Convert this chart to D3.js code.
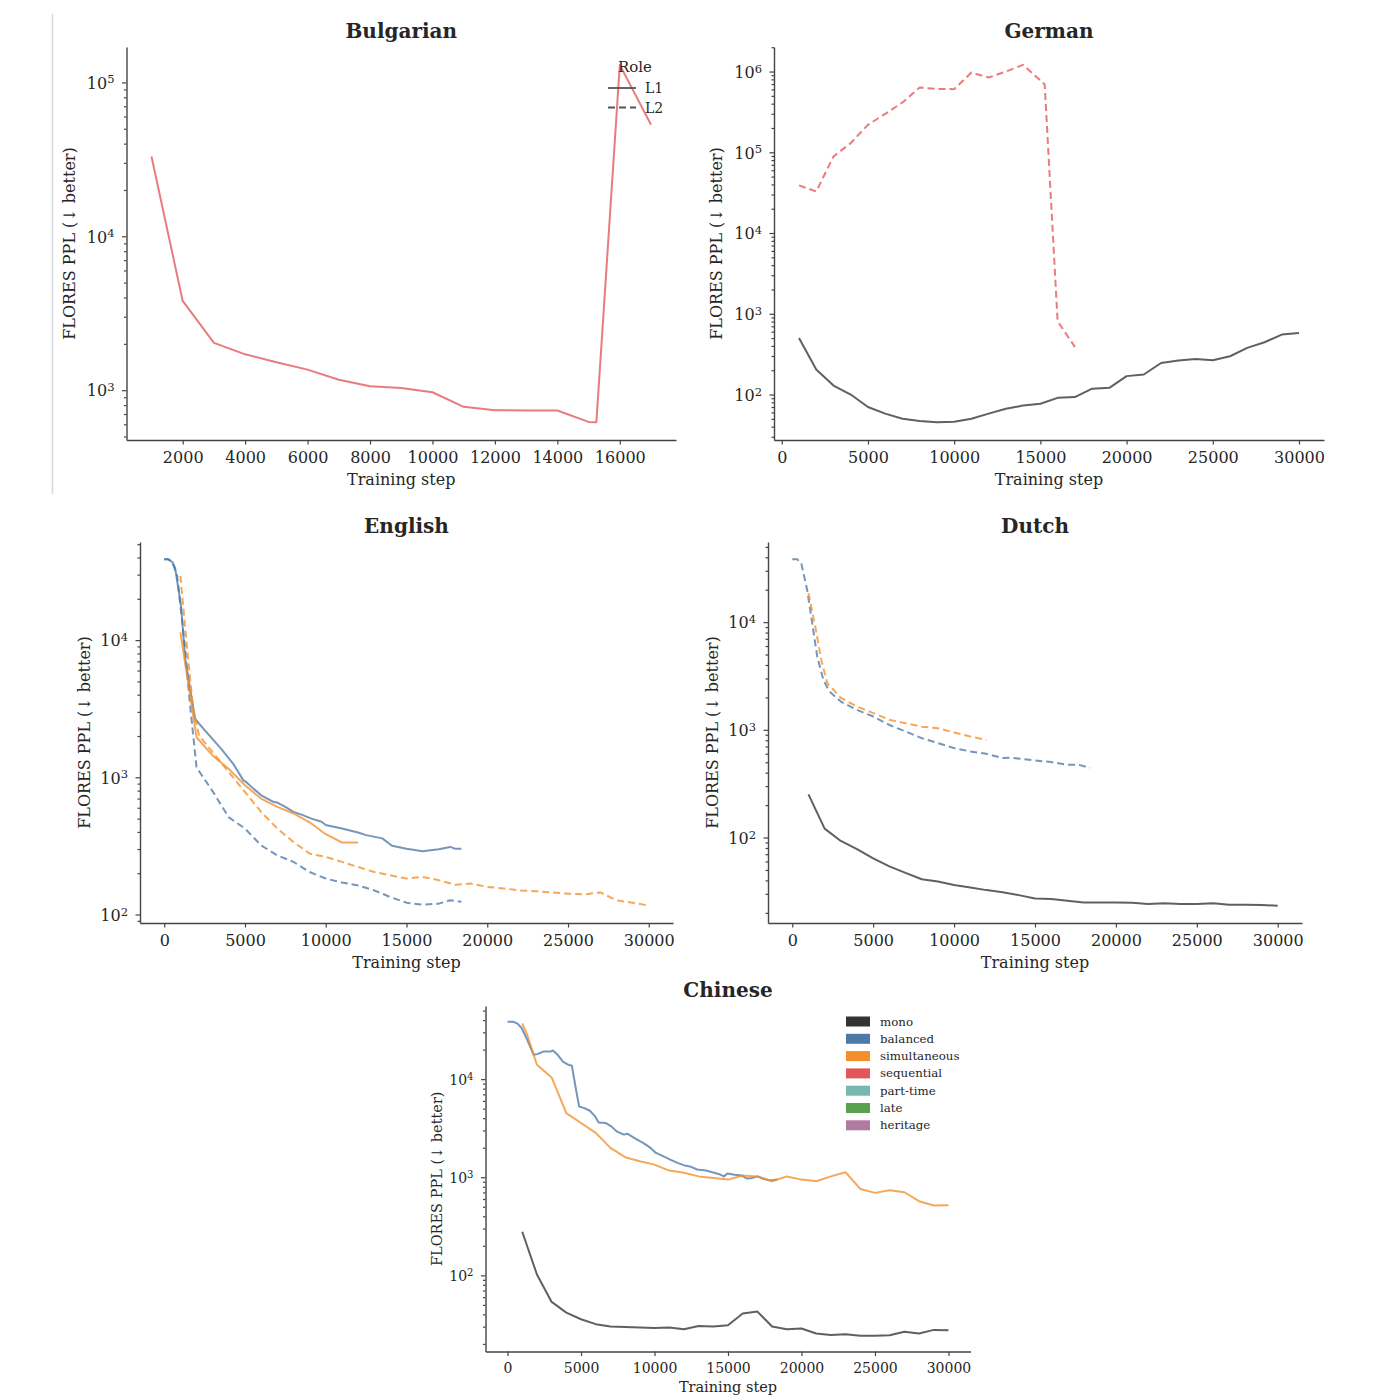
<!DOCTYPE html>
<html>
<head>
<meta charset="utf-8">
<script src="https://cdn.jsdelivr.net/npm/d3@7"></script>
<style>
    body { margin: 0; background: #fff; }
    svg text { font-family: "DejaVu Serif", serif; fill: #262626; }
</style>
</head>
<body>
<svg id="chart" width="1400" height="1400"></svg>
<script>
// ---------- data ----------
const groups = ['mono', 'balanced', 'simultaneous', 'sequential', 'part-time', 'late', 'heritage']
const groupColors = ['#333333', '#4e79a7', '#f28e2b', '#e15759', '#76b7b2', '#59a14f', '#b07aa1']
const roles = ['L1', 'L2']

const steps1kTo30k = [1000, 2000, 3000, 4000, 5000, 6000, 7000, 8000, 9000, 10000,
    11000, 12000, 13000, 14000, 15000, 16000, 17000, 18000, 19000, 20000,
    21000, 22000, 23000, 24000, 25000, 26000, 27000, 28000, 29000, 30000]

// Bulgarian
const bgSeqL1Step = [1000, 2000, 3000, 4000, 5000, 6000, 7000, 8000, 9000, 10000, 11000, 12000, 13000, 14000, 15000, 15250, 16000, 17000]
const bgSeqL1Ppl = [33000, 3800, 2030, 1710, 1520, 1360, 1170, 1060, 1035, 970, 780, 742, 738, 738, 622, 620, 130000, 53000]

// German
const deMonoL1Ppl = [502, 204, 129, 100, 70, 58, 50, 47, 45.5, 46, 50, 58, 66.5, 73, 77, 91, 93, 118, 121, 169,
    177, 246, 263, 276, 266, 298, 378, 444, 552, 579]
const deSeqL2Step = [1000, 2000, 3000, 4000, 5000, 6000, 7000, 8000, 9000, 10000, 11000, 12000, 13000, 14000, 15000, 15250, 16000, 17000]
const deSeqL2Ppl = [38900, 32700, 88700, 130000, 219000, 299000, 414000, 634000, 610000, 605000, 972000, 843000, 1000000, 1210000, 774000, 690000, 808, 389]

// English
const enBalL1Step = [0, 250, 500, 670, 900, 1040, 1300, 1540, 1910, 2530, 3530, 4270, 4900, 5070, 5520, 6010, 6760, 7000, 7500, 8000,
    8500, 9120, 9740, 10000, 11000, 12000, 12500, 13500, 14100, 15000, 16000, 17000, 17700, 18000, 18400]
const enBalL1Ppl = [38800, 38800, 37100, 33700, 22800, 17800, 7280, 4920, 2660, 2190, 1610, 1255, 950, 925, 827, 740, 662, 655, 609, 560,
    535, 500, 474, 449, 424, 396, 379, 359, 317, 302, 289, 299, 311, 302, 302]
const enBalL2Step = [0, 250, 500, 800, 1300, 1540, 2000, 3000, 4000, 5000, 6000, 7000, 8000, 9000, 10000, 11000, 12000, 13000, 14000, 15000,
    16000, 17000, 17700, 18400]
const enBalL2Ppl = [38800, 38800, 37100, 29400, 8600, 3940, 1180, 790, 510, 423, 319, 270, 242, 204, 183, 171, 163, 150, 134, 122,
    118, 120, 127, 124]
const enSimL1Step = [1000, 2000, 3000, 4000, 5000, 6000, 7000, 8000, 9000, 10000, 11000, 12000]
const enSimL1Ppl = [11400, 1960, 1440, 1150, 875, 700, 609, 545, 470, 385, 335, 335]
const enSimL2Step = [1000, 1420, 1790, 2160, 3000, 4000, 5000, 6000, 7000, 8000, 9000, 10000, 11000, 12000, 13000, 14000,
    15000, 16000, 17000, 18000, 19000, 20000, 21000, 22000, 23000, 24000, 25000, 26000, 27000, 28000, 29000, 30000]
const enSimL2Ppl = [29400, 8600, 3150, 2010, 1520, 1090, 782, 559, 423, 338, 278, 263, 242, 222, 204, 193,
    183, 188, 178, 165, 168, 159, 155, 150, 148, 145, 142, 140, 145, 127, 122, 116]

// Dutch
const nlMonoL1Ppl = [252, 121, 93, 78, 64, 54, 47, 41, 39, 36.2, 34.4, 32.5, 31, 29.2, 27.2, 26.9, 25.9, 25, 25, 25,
    24.8, 24.2, 24.5, 24.2, 24.2, 24.5, 23.8, 23.8, 23.7, 23.3]
const nlBalL2Step = [0, 300, 550, 920, 1170, 1540, 1920, 2290, 3000, 4000, 5000, 6000, 7000, 8000, 9000, 10000, 11000, 12000, 13000,
    13500, 15000, 16000, 17000, 17700, 18400]
const nlBalL2Ppl = [38300, 38300, 35600, 19900, 11300, 4800, 2920, 2280, 1830, 1530, 1330, 1110, 965, 837, 753, 677, 630, 600, 547,
    550, 520, 502, 474, 474, 444]
const nlSimL2Step = [1000, 1420, 1790, 2160, 3000, 4000, 5000, 6000, 7000, 8000, 9000, 10000, 11000, 12000]
const nlSimL2Ppl = [18600, 9120, 4480, 2720, 1980, 1645, 1430, 1240, 1150, 1070, 1035, 945, 867, 807]

// Chinese
const zhMonoL1Ppl = [278, 102, 53.6, 41.7, 35.7, 31.8, 30.1, 29.8, 29.4, 29, 29.4, 28.2, 30.5, 30.1, 31, 40.8, 42.7, 30.1, 28.2, 28.7,
    25.5, 24.7, 25.1, 24.2, 24.2, 24.5, 26.6, 25.5, 27.8, 27.6]
const zhBalL1Step = [0, 365, 660, 970, 1340, 1780, 2070, 2430, 2920, 3090, 3410, 3770, 4140, 4380, 4620, 4870, 5230, 5600, 5960, 6200,
    6690, 7060, 7420, 7910, 8150, 8640, 9250, 9730, 10100, 10580, 11070, 11560, 12040, 12410, 12900, 13500, 13990, 14360, 14720, 14960,
    15450, 15940, 16300, 16670, 17030, 17400, 17880, 18370]
const zhBalL1Ppl = [38500, 38500, 37000, 33000, 25100, 17700, 18100, 19100, 19100, 19600, 17700, 15100, 14000, 13700, 8420, 5270, 5070, 4760, 4170, 3620,
    3570, 3300, 2940, 2720, 2780, 2510, 2230, 1990, 1770, 1640, 1510, 1400, 1320, 1290, 1200, 1170, 1120, 1080, 1020, 1090,
    1060, 1040, 970, 985, 1020, 962, 925, 946]
const zhSimL1Step = [1000, 1340, 2000, 3000, 4000, 5000, 6000, 7000, 8000, 9000, 10000, 11000, 12000, 13000, 14000, 15000,
    16000, 17000, 18000, 19000, 20000, 21000, 22000, 23000, 24000, 25000, 26000, 27000, 28000, 29000, 30000]
const zhSimL1Ppl = [37000, 28200, 14000, 10400, 4510, 3570, 2830, 1990, 1600, 1455, 1345, 1170, 1110, 1020, 985, 946,
    1040, 1020, 910, 1020, 946, 910, 1020, 1125, 760, 693, 738, 703, 570, 515, 519]

// ---------- panels built from the arrays ----------
const panels = [
    {
        title: 'Bulgarian', xTicks: 8, legend: 'role',
        series: [{ group: 'sequential', role: 'L1', step: bgSeqL1Step, ppl: bgSeqL1Ppl }],
    },
    {
        title: 'German', xTicks: 7,
        series: [
            { group: 'mono', role: 'L1', step: steps1kTo30k, ppl: deMonoL1Ppl },
            { group: 'sequential', role: 'L2', step: deSeqL2Step, ppl: deSeqL2Ppl },
        ],
    },
    {
        title: 'English', xTicks: 7,
        series: [
            { group: 'balanced', role: 'L1', step: enBalL1Step, ppl: enBalL1Ppl },
            { group: 'balanced', role: 'L2', step: enBalL2Step, ppl: enBalL2Ppl },
            { group: 'simultaneous', role: 'L1', step: enSimL1Step, ppl: enSimL1Ppl },
            { group: 'simultaneous', role: 'L2', step: enSimL2Step, ppl: enSimL2Ppl },
        ],
    },
    {
        title: 'Dutch', xTicks: 7,
        series: [
            { group: 'mono', role: 'L1', step: steps1kTo30k, ppl: nlMonoL1Ppl },
            { group: 'balanced', role: 'L2', step: nlBalL2Step, ppl: nlBalL2Ppl },
            { group: 'simultaneous', role: 'L2', step: nlSimL2Step, ppl: nlSimL2Ppl },
        ],
    },
    {
        title: 'Chinese', xTicks: 7, legend: 'group',
        series: [
            { group: 'mono', role: 'L1', step: steps1kTo30k, ppl: zhMonoL1Ppl },
            { group: 'balanced', role: 'L1', step: zhBalL1Step, ppl: zhBalL1Ppl },
            { group: 'simultaneous', role: 'L1', step: zhSimL1Step, ppl: zhSimL1Ppl },
        ],
    },
]

// plot boxes (left, top, right, bottom) + font sizes
const layout = [
    { l: 126.5, t: 47, r: 676, b: 440, fs: 16, ls: 16, xl: 45, yl: 52 },
    { l: 774, t: 47, r: 1324, b: 440, fs: 16, ls: 16, xl: 45, yl: 52 },
    { l: 140, t: 542, r: 673, b: 923, fs: 16, ls: 16, xl: 45, yl: 50 },
    { l: 768, t: 542, r: 1302, b: 923, fs: 16, ls: 16, xl: 45, yl: 50 },
    { l: 485.5, t: 1006, r: 970.5, b: 1351.5, fs: 14, ls: 14.5, xl: 40, yl: 44 },
]

const color = d3.scaleOrdinal().domain(groups).range(groupColors)
const dash = d3.scaleOrdinal().domain(roles).range(['none', '7,4'])

const svg = d3.select('#chart')

// faint screenshot border on the left
svg.append('line')
    .attr('x1', 52.5).attr('x2', 52.5).attr('y1', 14).attr('y2', 494)
    .attr('stroke', '#d3d8e0').attr('stroke-width', 1.5)

function padExtent(lo, hi) {
    const m = (hi - lo) * 0.05
    return [lo - m, hi + m]
}

panels.forEach((panel, pi) => {
    const box = layout[pi]
    const allSteps = panel.series.flatMap(s => s.step)
    const allPpl = panel.series.flatMap(s => s.ppl)

    const xDom = padExtent(d3.min(allSteps), d3.max(allSteps))
    const yLog = padExtent(Math.log10(d3.min(allPpl)), Math.log10(d3.max(allPpl)))

    const x = d3.scaleLinear().domain(xDom).range([box.l, box.r])
    const y = d3.scaleLog().domain([10 ** yLog[0], 10 ** yLog[1]]).range([box.b, box.t])

    const g = svg.append('g')

    // y minor / major ticks (log decades)
    const minors = []
    const majors = []
    for (let k = Math.floor(yLog[0]); k <= Math.ceil(yLog[1]); k++) {
        for (let m = 1; m <= 9; m++) {
            const v = m * 10 ** k
            if (Math.log10(v) < yLog[0] || Math.log10(v) > yLog[1]) continue
            if (m === 1) majors.push(v)
            else minors.push(v)
        }
    }

    g.append('g')
        .attr('transform', `translate(${box.l},0)`)
        .call(d3.axisLeft(y).tickValues(minors).tickSize(2.5).tickFormat('').tickSizeOuter(0))
        .call(a => a.select('.domain').remove())
        .call(a => a.selectAll('line').attr('stroke', '#444').attr('stroke-width', 1))

    const yAxis = g.append('g')
        .attr('transform', `translate(${box.l},0)`)
        .call(d3.axisLeft(y).tickValues(majors).tickSize(4.5).tickPadding(7.5).tickSizeOuter(0).tickFormat(''))
    yAxis.selectAll('.tick text')
        .attr('font-size', box.fs)
        .attr('dy', '0.36em')
        .each(function (d) {
            const t = d3.select(this)
            t.append('tspan').text('10')
            t.append('tspan')
                .attr('dy', '-0.45em')
                .attr('font-size', '0.72em')
                .text(Math.round(Math.log10(d)))
        })

    const xAxis = g.append('g')
        .attr('transform', `translate(0,${box.b})`)
        .call(d3.axisBottom(x).ticks(panel.xTicks).tickSize(4.5).tickPadding(7).tickSizeOuter(0).tickFormat(d3.format('d')))
    xAxis.selectAll('.tick text').attr('font-size', box.fs)

    g.selectAll('.domain').attr('stroke', '#444').attr('stroke-width', 1.4)
    g.selectAll('.tick line').attr('stroke', '#444').attr('stroke-width', 1.2)
    g.selectAll('.tick text').attr('fill', '#262626').attr('font-family', '"DejaVu Serif", serif')

    // titles and labels
    g.append('text')
        .attr('x', (box.l + box.r) / 2)
        .attr('y', box.t - 9)
        .attr('text-anchor', 'middle')
        .attr('font-size', 20)
        .attr('font-weight', 'bold')
        .attr('fill', '#111')
        .text(panel.title)

    g.append('text')
        .attr('x', (box.l + box.r) / 2)
        .attr('y', box.b + box.xl)
        .attr('text-anchor', 'middle')
        .attr('font-size', box.ls)
        .text('Training step')

    g.append('text')
        .attr('transform', `translate(${box.l - box.yl},${(box.t + box.b) / 2}) rotate(-90)`)
        .attr('text-anchor', 'middle')
        .attr('font-size', box.ls)
        .text('FLORES PPL (↓ better)')

    // lines
    const line = d3.line()
        .x(d => x(d[0]))
        .y(d => y(d[1]))

    panel.series.forEach((s) => {
        g.append('path')
            .datum(d3.zip(s.step, s.ppl))
            .attr('d', line)
            .attr('fill', 'none')
            .attr('stroke', color(s.group))
            .attr('stroke-opacity', 0.78)
            .attr('stroke-width', 2)
            .attr('stroke-dasharray', dash(s.role))
            .attr('stroke-linejoin', 'round')
    })

    // legends
    if (panel.legend === 'role') {
        const lg = g.append('g')
        lg.append('text')
            .attr('x', 635).attr('y', 72)
            .attr('text-anchor', 'middle')
            .attr('font-size', 15)
            .text('Role')
        roles.forEach((r, i) => {
            const yy = 88 + i * 19.5
            lg.append('line')
                .attr('x1', 608).attr('x2', 636).attr('y1', yy).attr('y2', yy)
                .attr('stroke', '#555').attr('stroke-width', 1.8)
                .attr('stroke-dasharray', dash(r))
            lg.append('text')
                .attr('x', 645).attr('y', yy + 5)
                .attr('font-size', 14)
                .text(r)
        })
    }

    if (panel.legend === 'group') {
        const lg = g.append('g')
        groups.forEach((name, i) => {
            const yy = 1021.5 + i * 17.3
            lg.append('rect')
                .attr('x', 846).attr('y', yy - 5)
                .attr('width', 24).attr('height', 10)
                .attr('fill', color(name))
            lg.append('text')
                .attr('x', 880).attr('y', yy + 4)
                .attr('font-size', 11.8)
                .text(name)
        })
    }
})
</script>
</body>
</html>
